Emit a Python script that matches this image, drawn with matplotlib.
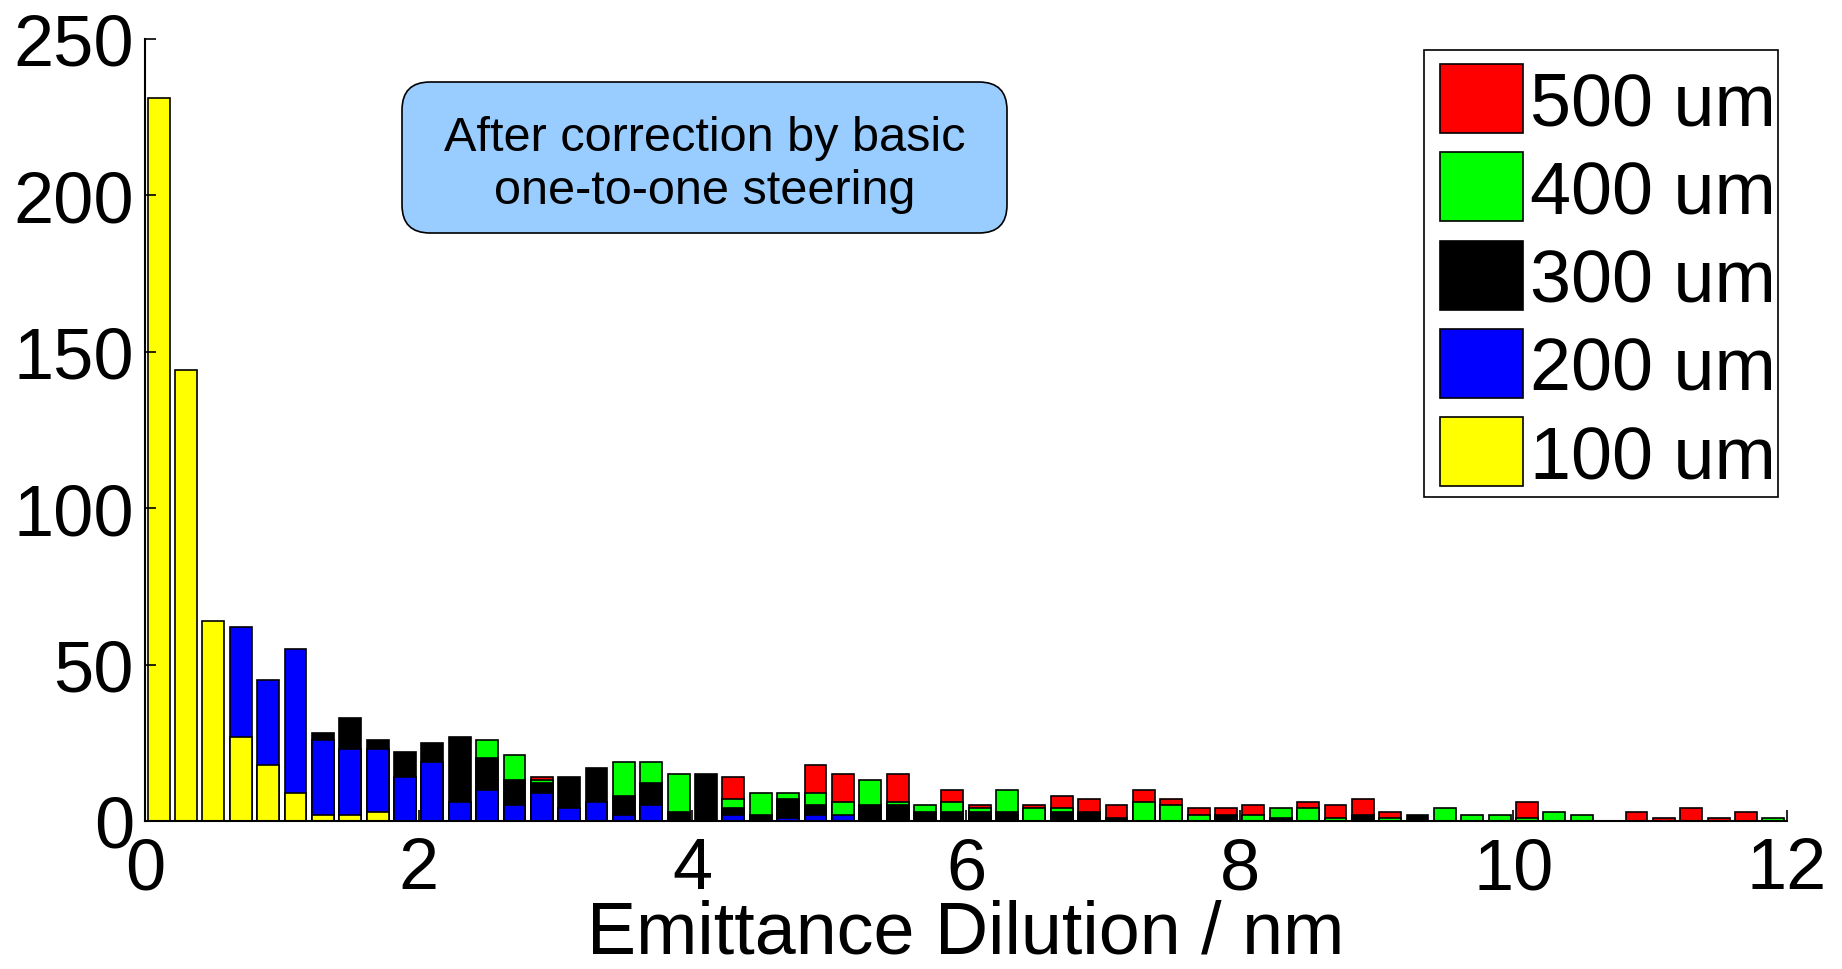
import matplotlib
matplotlib.use("Agg")
import matplotlib.pyplot as plt
import numpy as np
from matplotlib.patches import Rectangle, FancyBboxPatch
from matplotlib.transforms import IdentityTransform

plt.rcParams['font.family'] = ['Liberation Sans', 'DejaVu Sans']

# ---- data: histogram counts per 0.2 nm bin (bin centres 0.1 ... 11.9) ----
bin_centres = [round(0.1 + 0.2 * i, 1) for i in range(60)]

counts_100um = [231, 144, 64, 27, 18, 9, 2, 2, 3, 0,
                0, 0, 0, 0, 0, 0, 0, 0, 0, 0,
                0, 0, 0, 0, 0, 0, 0, 0, 0, 0,
                0, 0, 0, 0, 0, 0, 0, 0, 0, 0,
                0, 0, 0, 0, 0, 0, 0, 0, 0, 0,
                0, 0, 0, 0, 0, 0, 0, 0, 0, 0]
counts_200um = [0, 0, 0, 62, 45, 55, 26, 23, 23, 14,
                19, 6, 10, 5, 9, 4, 6, 2, 5, 0,
                0, 2, 0, 1, 2, 2, 0, 0, 0, 0,
                0, 0, 0, 0, 0, 0, 0, 0, 0, 0,
                0, 0, 0, 0, 0, 0, 0, 0, 0, 0,
                0, 0, 0, 0, 0, 0, 0, 0, 0, 0]
counts_300um = [0, 0, 0, 0, 0, 0, 28, 33, 26, 22,
                25, 27, 20, 13, 12, 14, 17, 8, 12, 3,
                15, 4, 2, 7, 5, 0, 5, 5, 3, 3,
                3, 3, 0, 3, 3, 1, 0, 0, 0, 2,
                0, 1, 0, 0, 2, 0, 2, 0, 0, 0,
                0, 0, 0, 0, 0, 0, 0, 0, 0, 0]
counts_400um = [0, 0, 0, 0, 0, 0, 0, 0, 0, 0,
                0, 0, 26, 21, 13, 0, 0, 19, 19, 15,
                0, 7, 9, 9, 9, 6, 13, 6, 5, 6,
                4, 10, 4, 4, 0, 0, 6, 5, 2, 0,
                2, 4, 4, 1, 0, 1, 0, 4, 2, 2,
                1, 3, 2, 0, 0, 0, 0, 0, 0, 1]
counts_500um = [0, 0, 0, 0, 0, 0, 0, 0, 0, 0,
                0, 0, 0, 0, 14, 0, 0, 0, 0, 0,
                0, 14, 0, 0, 18, 15, 0, 15, 0, 10,
                5, 0, 5, 8, 7, 5, 10, 7, 4, 4,
                5, 0, 6, 5, 7, 3, 0, 0, 0, 0,
                6, 0, 0, 0, 3, 1, 4, 1, 3, 0]

series_labels = ['500 um', '400 um', '300 um', '200 um', '100 um']
series_colors = ['#FF0000', '#00FF00', '#000000', '#0000FF', '#FFFF00']
series_counts = [counts_500um, counts_400um, counts_300um, counts_200um, counts_100um]

x_ticks = [0, 2, 4, 6, 8, 10, 12]
y_ticks = [0, 50, 100, 150, 200, 250]
x_label = 'Emittance Dilution / nm'
note_text = 'After correction by basic\none-to-one steering'

# ---- figure ----
W, H = 1842, 970
fig = plt.figure(figsize=(W / 100, H / 100), dpi=100)
ax = fig.add_axes([145 / W, 1 - 822 / H, (1787 - 145) / W, (822 - 39.8) / H])

for counts, col in zip(series_counts, series_colors):
    ax.bar(bin_centres, counts, width=0.16, color=col, edgecolor='black',
           linewidth=1.2, align='center')

ax.set_xlim(0, 12)
ax.set_ylim(0, 250)
ax.set_xticks(x_ticks)
ax.set_yticks(y_ticks)
ax.spines['top'].set_visible(False)
ax.spines['right'].set_visible(False)
ax.spines['left'].set_linewidth(1.5)
ax.spines['bottom'].set_linewidth(1.5)
ax.tick_params(direction='in', length=8, width=1.2, labelsize=52)
ax.tick_params(axis='y', pad=8)
ax.tick_params(axis='x', pad=11)
ax.set_xlabel(x_label, fontsize=53)
ax.xaxis.label.set_va('baseline')
ax.xaxis.set_label_coords(0.5, -(954 - 822) / (822 - 39.8))

# ---- legend (MATLAB style, drawn in pixel coordinates) ----
px = IdentityTransform()
def top(y):  # convert top-origin pixel y to display y
    return H - y

frame = Rectangle((1424, top(498)), 1778 - 1424, 498 - 51, facecolor='white',
                  edgecolor='black', linewidth=1.2, transform=px, zorder=5)
fig.patches.append(frame)
row_pitch = 88.3
for k, (lab, col) in enumerate(zip(series_labels, series_colors)):
    y0 = 65 + row_pitch * k
    fig.patches.append(Rectangle((1440, top(y0 + 69)), 83, 69, facecolor=col,
                                 edgecolor='black', linewidth=1.2, transform=px,
                                 zorder=6))
    fig.text(1530 / W, 1 - (y0 + 61) / H, lab, ha='left', va='baseline',
             fontsize=53, zorder=7)

# ---- annotation box ----
box = FancyBboxPatch((402, top(234)), 605, 151,
                     boxstyle='round,pad=0,rounding_size=28',
                     facecolor='#99CCFF', edgecolor='black', linewidth=1.2,
                     transform=px, zorder=5)
fig.patches.append(box)
fig.text(704.5 / W, 1 - 165 / H, note_text, ha='center', va='center',
         fontsize=35, linespacing=1.25, zorder=6)

fig.savefig('out.png', dpi=100)
